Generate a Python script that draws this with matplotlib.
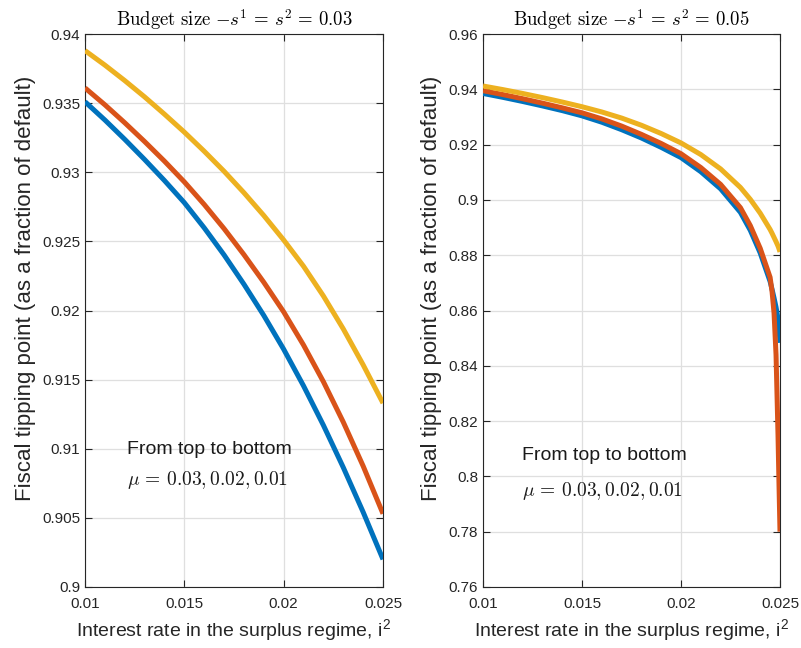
import matplotlib
matplotlib.use("Agg")
import matplotlib.pyplot as plt
from matplotlib.ticker import FuncFormatter

plt.rcParams['font.family'] = ['Liberation Sans', 'DejaVu Sans']
plt.rcParams['mathtext.fontset'] = 'cm'

# ---- data: left panel (budget size 0.03) ----
x_left = [0.010, 0.011, 0.012, 0.013, 0.014, 0.015, 0.016, 0.017,
          0.018, 0.019, 0.020, 0.021, 0.022, 0.023, 0.024, 0.025]
left_mu003 = [0.9388, 0.93775, 0.93663, 0.93545, 0.9342, 0.9329, 0.93152, 0.93007,
              0.92852, 0.92687, 0.9251, 0.9232, 0.92105, 0.91867, 0.91607, 0.9133]
left_mu002 = [0.9361, 0.93488, 0.93358, 0.93222, 0.9308, 0.9293, 0.92767, 0.92592,
              0.92404, 0.92204, 0.9199, 0.9175, 0.91485, 0.91193, 0.90875, 0.9053]
left_mu001 = [0.9351, 0.93378, 0.93238, 0.93092, 0.9294, 0.9278, 0.92598, 0.92402,
              0.9219, 0.91964, 0.9172, 0.91455, 0.9117, 0.90865, 0.90542, 0.9020]

# ---- data: right panel (budget size 0.05) ----
x_right = [0.010, 0.011, 0.012, 0.013, 0.014, 0.015, 0.016, 0.017, 0.018,
           0.019, 0.020, 0.021, 0.022, 0.023, 0.0235, 0.024, 0.0245, 0.0246,
           0.0247, 0.0248, 0.0249, 0.02495, 0.025]
right_mu003 = [0.9412, 0.9399, 0.9385, 0.9370, 0.9354, 0.9337, 0.9318, 0.9296, 0.9270,
               0.9240, 0.9206, 0.9164, 0.9112, 0.9045, 0.9002, 0.8952, 0.8893, 0.8879,
               0.8864, 0.8849, 0.8833, 0.8823, 0.8812]
right_mu002 = [0.9395, 0.9381, 0.9366, 0.9350, 0.9333, 0.9315, 0.9293, 0.9267, 0.9237,
               0.9204, 0.9167, 0.9117, 0.9056, 0.8972, 0.8907, 0.8825, 0.8720, 0.8668,
               0.8590, 0.8440, 0.8150, 0.7970, 0.7800]
right_mu001 = [0.9385, 0.9371, 0.9356, 0.9340, 0.9323, 0.9304, 0.9281, 0.9254, 0.9224,
               0.9190, 0.9153, 0.9102, 0.9040, 0.8955, 0.8890, 0.8808, 0.8705, 0.8676,
               0.8645, 0.8612, 0.8570, 0.8535, 0.8483]

x_ticks = [0.01, 0.015, 0.02, 0.025]
left_yticks = [0.9, 0.905, 0.91, 0.915, 0.92, 0.925, 0.93, 0.935, 0.94]
right_yticks = [0.76, 0.78, 0.8, 0.82, 0.84, 0.86, 0.88, 0.9, 0.92, 0.94, 0.96]

titles = [r'$\mathrm{Budget\ size}\ {-}s^1\,=\,s^2\,=\,0.03$',
          r'$\mathrm{Budget\ size}\ {-}s^1\,=\,s^2\,=\,0.05$']
note1 = 'From top to bottom'
note2 = r'$\mu\,=\,0.03,0.02,0.01$'
xlabel = 'Interest rate in the surplus regime, i$^{\mathregular{2}}$'
ylabel = 'Fiscal tipping point (as a fraction of default)'

c_blue = '#0072BD'
c_red = '#D95319'
c_yel = '#EDB120'

fig = plt.figure(figsize=(8.01, 6.48), dpi=100)
ax1 = fig.add_axes([85/801, 1-587/648, 298/801, 553/648])
ax2 = fig.add_axes([483/801, 1-587/648, 297/801, 553/648])

fmt = FuncFormatter(lambda v, p: '{:g}'.format(round(v, 6)))

panels = [
    (ax1, x_left, [left_mu001, left_mu002, left_mu003], left_yticks, (0.9, 0.94),
     (0.01211, 0.90993, 0.90776), -0.164),
    (ax2, x_right, [right_mu001, right_mu002, right_mu003], right_yticks, (0.76, 0.96),
     (0.01195, 0.8075, 0.7948), -0.138),
]

for i, (ax, xs, series, yt, ylim, txt, ylx) in enumerate(panels):
    for ys, c in zip(series, [c_blue, c_red, c_yel]):
        ax.plot(xs, ys, color=c, lw=3.6, solid_capstyle='butt',
                solid_joinstyle='round', zorder=3)
    ax.set_xlim(0.01, 0.025)
    ax.set_ylim(*ylim)
    ax.set_xticks(x_ticks)
    ax.set_yticks(yt)
    ax.xaxis.set_major_formatter(fmt)
    ax.yaxis.set_major_formatter(fmt)
    ax.grid(True, color='#DFDFDF', lw=0.9)
    ax.set_axisbelow(True)
    ax.tick_params(direction='in', top=True, right=True, length=5, width=0.8,
                   colors='#262626', labelsize=11, labelcolor='#262626')
    ax.tick_params(axis='x', pad=7)
    for s in ax.spines.values():
        s.set_color('#262626')
        s.set_linewidth(0.8)
    ax.set_title(titles[i], fontsize=13.5, pad=6)
    ax.set_xlabel(xlabel, fontsize=14, color='#262626', labelpad=5)
    ax.set_ylabel(ylabel, fontsize=16, color='#262626')
    ax.yaxis.set_label_coords(ylx, 0.54)
    ax.text(txt[0], txt[1], note1, fontsize=14, va='center', ha='left', color='#1a1a1a')
    ax.text(txt[0], txt[2], note2, fontsize=14, va='center', ha='left', color='#1a1a1a')

fig.savefig('out.png', dpi=100)
